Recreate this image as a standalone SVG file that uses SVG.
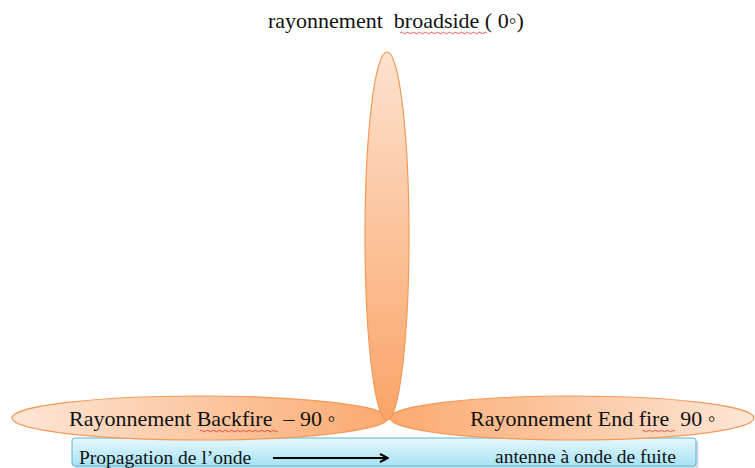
<svg xmlns="http://www.w3.org/2000/svg" width="755" height="468" viewBox="0 0 755 468">
<defs>
<linearGradient id="gV" x1="0" y1="0" x2="0" y2="1"><stop offset="0" stop-color="#fde2ce"/><stop offset="1" stop-color="#faa468"/></linearGradient>
<linearGradient id="gL" x1="0" y1="0" x2="1" y2="0"><stop offset="0" stop-color="#fde6d6"/><stop offset="1" stop-color="#fbaa70"/></linearGradient>
<linearGradient id="gR" x1="0" y1="0" x2="1" y2="0"><stop offset="0" stop-color="#fbaa70"/><stop offset="1" stop-color="#fde6d6"/></linearGradient>
<linearGradient id="gB" x1="0" y1="0" x2="0" y2="1"><stop offset="0" stop-color="#e6f8fd"/><stop offset="1" stop-color="#a6e2f4"/></linearGradient>
<marker id="arr" viewBox="0 0 10 10" refX="9" refY="5" markerWidth="5" markerHeight="5" orient="auto"><path d="M1,1 L9,5 L1,9" fill="none" stroke="#000" stroke-width="2"/></marker>
<style>
.lobe{stroke:#f39a58;stroke-width:1.2}
.t{font-family:"Liberation Serif","Times New Roman",serif;fill:#111;white-space:pre}
.sp{fill:none;stroke:#e03030;stroke-width:0.8}
</style>
</defs>
<text class="t" x="268" y="28" font-size="22" xml:space="preserve">rayonnement  broadside ( 0◦)</text>
<path class="sp" d="M400,33 q1.5,-1.5 3,0 t3,0 t3,0 t3,0 t3,0 t3,0 t3,0 t3,0 t3,0 t3,0 t3,0 t3,0 t3,0 t3,0 t3,0 t3,0 t3,0 t3,0 t3,0 t3,0 t3,0 t3,0 t3,0 t3,0 t3,0 t3,0 t3,0 t3,0 t3,0"/>
<g id="blue-bar">
<rect x="73" y="439" width="624" height="28" rx="3" fill="#7a9aa8" opacity="0.35" transform="translate(1.5,1.5)"/>
<rect x="72" y="438" width="624" height="28" rx="3" fill="url(#gB)" stroke="#5fb4cf" stroke-width="1"/>
<text class="t" x="79" y="464" font-size="19.5">Propagation de l’onde</text>
<text class="t" x="495" y="463" font-size="19.5">antenne à onde de fuite</text>
</g>
<g id="connectors">
<line x1="273" y1="458" x2="388" y2="458" stroke="#000" stroke-width="2" marker-end="url(#arr)"/>
</g>
<g id="lobe-backfire">
<ellipse class="lobe" cx="200" cy="418" rx="188" ry="22" fill="url(#gL)"/>
<text class="t" x="69" y="426" font-size="22" xml:space="preserve">Rayonnement Backfire  – 90 ◦</text>
<path class="sp" d="M200,431 q1.5,-1.5 3,0 t3,0 t3,0 t3,0 t3,0 t3,0 t3,0 t3,0 t3,0 t3,0 t3,0 t3,0 t3,0 t3,0 t3,0 t3,0 t3,0 t3,0 t3,0 t3,0 t3,0 t3,0 t3,0 t3,0 t3,0 t3,0"/>
</g>
<g id="lobe-endfire">
<ellipse class="lobe" cx="572" cy="418" rx="182" ry="22" fill="url(#gR)"/>
<text class="t" x="470" y="426" font-size="22" xml:space="preserve">Rayonnement End fire  90 ◦</text>
<path class="sp" d="M642,431 q1.5,-1.5 3,0 t3,0 t3,0 t3,0 t3,0 t3,0 t3,0 t3,0 t3,0 t3,0 t3,0"/>
</g>
<g id="lobe-broadside">
<ellipse class="lobe" cx="387" cy="236" rx="22" ry="184" fill="url(#gV)"/>
</g>
</svg>
